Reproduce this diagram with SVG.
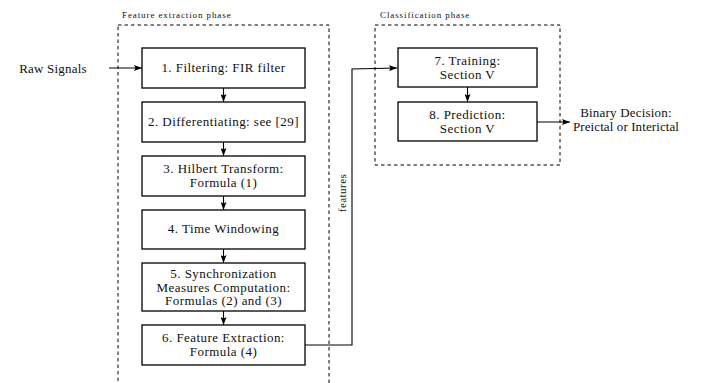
<svg xmlns="http://www.w3.org/2000/svg" width="711" height="383" viewBox="0 0 711 383">
<defs>
<marker id="ah" viewBox="0 0 8 6" refX="8" refY="3" markerWidth="8" markerHeight="6" markerUnits="userSpaceOnUse" orient="auto">
<path d="M0,0 L8,3 L0,6 L1.5,3 Z" fill="#000"/>
</marker>
</defs>
<style>
.box{fill:#fff;stroke:#000;stroke-width:1.3}
.phase{fill:none;stroke:#000;stroke-width:1;stroke-dasharray:3.5 3}
.t{font-size:13px;fill:#111;text-anchor:middle;letter-spacing:0.45px}
.s{font-size:9px;fill:#111;letter-spacing:0.9px}
.c{fill:none;stroke:#000;stroke-width:1.1}
</style>
<rect width="711" height="383" fill="#fff"/>
<g font-family="Liberation Serif, DejaVu Serif, serif">
<g id="phase-feature">
<rect class="phase" x="118" y="25" width="211" height="370"/>
<text class="s" x="122" y="18">Feature extraction phase</text>
</g>
<g id="phase-class">
<rect class="phase" x="375" y="25" width="185" height="140"/>
<text class="s" x="380" y="18">Classification phase</text>
</g>
<g id="connectors">
<line class="c" x1="109" y1="68" x2="142" y2="68" marker-end="url(#ah)"/>
<line class="c" x1="223.5" y1="88" x2="223.5" y2="102" marker-end="url(#ah)"/>
<line class="c" x1="223.5" y1="142" x2="223.5" y2="156" marker-end="url(#ah)"/>
<line class="c" x1="223.5" y1="196" x2="223.5" y2="210" marker-end="url(#ah)"/>
<line class="c" x1="223.5" y1="249" x2="223.5" y2="263" marker-end="url(#ah)"/>
<line class="c" x1="223.5" y1="311" x2="223.5" y2="325" marker-end="url(#ah)"/>
<polyline class="c" points="305,345 352,345 352,69 397,68" marker-end="url(#ah)"/>
<line class="c" x1="467.5" y1="87" x2="467.5" y2="102" marker-end="url(#ah)"/>
<line class="c" x1="537" y1="122" x2="570" y2="122" marker-end="url(#ah)"/>
<text class="t" transform="translate(346,193) rotate(-90)" style="font-size:11px">features</text>
</g>
<g id="raw">
<text class="t" x="53" y="73" style="letter-spacing:0.2px">Raw Signals</text>
</g>
<g id="n1">
<rect class="box" x="142" y="48" width="163" height="40"/>
<text class="t" x="223.5" y="72">1.  Filtering:  FIR filter</text>
</g>
<g id="n2">
<rect class="box" x="142" y="102" width="163" height="40"/>
<text class="t" x="223.5" y="126">2.  Differentiating:  see [29]</text>
</g>
<g id="n3">
<rect class="box" x="142" y="156" width="163" height="40"/>
<text class="t" x="223.5" y="173">3.  Hilbert Transform:</text>
<text class="t" x="223.5" y="187">Formula (1)</text>
</g>
<g id="n4">
<rect class="box" x="142" y="210" width="163" height="39"/>
<text class="t" x="223.5" y="233">4.  Time Windowing</text>
</g>
<g id="n5">
<rect class="box" x="142" y="263" width="163" height="48"/>
<text class="t" x="223.5" y="278">5.  Synchronization</text>
<text class="t" x="223.5" y="291.5">Measures Computation:</text>
<text class="t" x="223.5" y="305">Formulas (2) and (3)</text>
</g>
<g id="n6">
<rect class="box" x="142" y="325" width="163" height="40"/>
<text class="t" x="223.5" y="342">6.  Feature Extraction:</text>
<text class="t" x="223.5" y="356">Formula (4)</text>
</g>
<g id="n7">
<rect class="box" x="398" y="48" width="139" height="39"/>
<text class="t" x="467.5" y="65">7.  Training:</text>
<text class="t" x="467.5" y="79">Section V</text>
</g>
<g id="n8">
<rect class="box" x="398" y="102" width="139" height="39"/>
<text class="t" x="467.5" y="119">8.  Prediction:</text>
<text class="t" x="467.5" y="133">Section V</text>
</g>
<g id="out">
<text class="t" x="626" y="117" style="letter-spacing:0.2px">Binary Decision:</text>
<text class="t" x="626" y="131" style="letter-spacing:0.1px">Preictal or Interictal</text>
</g>
</g>
</svg>
